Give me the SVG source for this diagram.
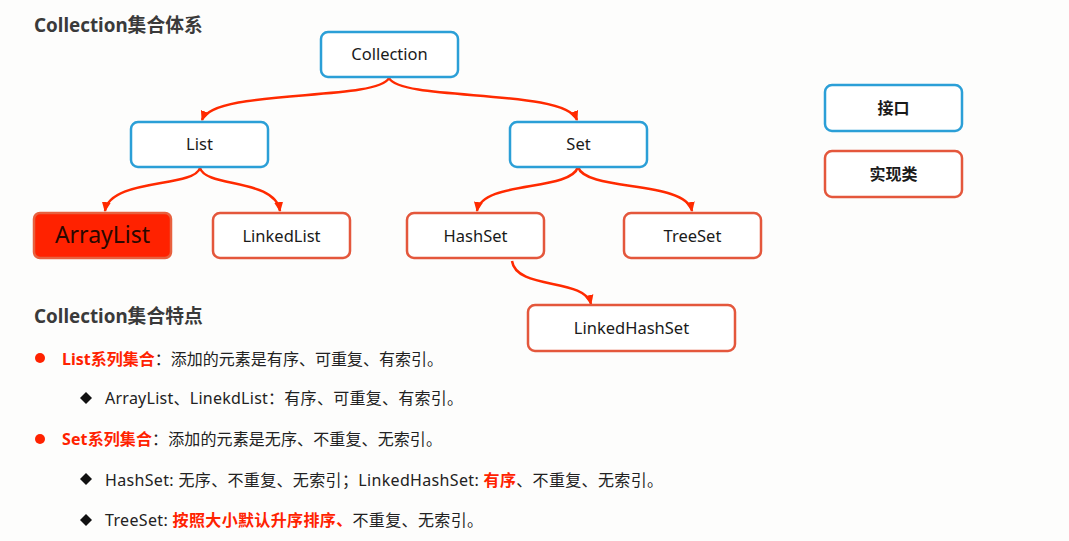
<svg xmlns="http://www.w3.org/2000/svg" width="1069" height="541" viewBox="0 0 1069 541">
<style>
text{font-family:"Noto Sans","Noto Sans CJK SC",sans-serif;}
.iface{fill:#fff;stroke:#2b9fd7;stroke-width:2.5;}
.impl{fill:#fff;stroke:#e4573c;stroke-width:2.5;}
.lbl{font-size:16.5px;fill:#1a1a1a;text-anchor:middle;}
.leg{font-size:16px;font-weight:bold;fill:#1a1a1a;text-anchor:middle;}
.head{font-size:18.8px;font-weight:bold;fill:#3a3a3a;}
.body{font-size:16px;fill:#222;}
.hl{fill:#ff2200;font-weight:bold;}
.conn{fill:none;stroke:#ff2a00;stroke-width:2.5;marker-end:url(#arr);}
</style>
<defs>
<marker id="arr" viewBox="0 0 10 10" refX="9" refY="5" markerWidth="10" markerHeight="10" markerUnits="userSpaceOnUse" orient="auto">
<path d="M0,0.5 L10,5 L0,9.5 Z" fill="#ff2a00"/>
</marker>
</defs>
<rect width="1069" height="541" fill="#fdfdfc"/>

<g id="connectors">
<path class="conn" d="M389,78 C376,102 214,88 202,120"/>
<path class="conn" d="M389,78 C402,102 565,88 577,120"/>
<path class="conn" d="M200,168 C194,188 110,178 105,211"/>
<path class="conn" d="M200,168 C206,188 275,178 280,211"/>
<path class="conn" d="M578,167 C570,192 482,180 477,211"/>
<path class="conn" d="M578,167 C586,192 686,180 692,211"/>
<path class="conn" d="M512,261 C516,290 585,278 591,304"/>
</g>

<g id="node-collection">
<rect class="iface" x="321" y="32" width="137" height="45" rx="7"/>
<text class="lbl" x="389.5" y="60">Collection</text>
</g>
<g id="node-list">
<rect class="iface" x="131" y="122" width="137" height="45" rx="7"/>
<text class="lbl" x="199.5" y="150">List</text>
</g>
<g id="node-set">
<rect class="iface" x="510" y="122" width="137" height="45" rx="7"/>
<text class="lbl" x="578.5" y="150">Set</text>
</g>
<g id="node-arraylist">
<rect x="34" y="213" width="137" height="45" rx="6" fill="#ff2200" stroke="#e8603e" stroke-width="2.5"/>
<text x="102.5" y="243" font-size="23" fill="#2a0800" text-anchor="middle">ArrayList</text>
</g>
<g id="node-linkedlist">
<rect class="impl" x="213" y="213" width="137" height="45" rx="7"/>
<text class="lbl" x="281.5" y="242">LinkedList</text>
</g>
<g id="node-hashset">
<rect class="impl" x="407" y="213" width="137" height="45" rx="7"/>
<text class="lbl" x="475.5" y="242">HashSet</text>
</g>
<g id="node-treeset">
<rect class="impl" x="624" y="213" width="137" height="45" rx="7"/>
<text class="lbl" x="692.5" y="242">TreeSet</text>
</g>
<g id="node-linkedhashset">
<rect class="impl" x="528" y="305" width="207" height="46" rx="7"/>
<text class="lbl" x="631.5" y="334">LinkedHashSet</text>
</g>
<g id="legend-interface">
<rect class="iface" x="825" y="85" width="137" height="46" rx="7"/>
<text class="leg" x="893.5" y="114">接口</text>
</g>
<g id="legend-impl">
<rect class="impl" x="825" y="151" width="137" height="46" rx="7"/>
<text class="leg" x="893.5" y="180">实现类</text>
</g>

<g id="text-blocks">
<text class="head" x="34" y="32">Collection集合体系</text>
<text class="head" x="34" y="323">Collection集合特点</text>
<circle cx="40" cy="358" r="5" fill="#ff2200"/>
<text class="body" x="62" y="365" textLength="381" lengthAdjust="spacing"><tspan class="hl">List系列集合</tspan>：添加的元素是有序、可重复、有索引。</text>
<path d="M86,392 L92,398 L86,404 L80,398 Z" fill="#111"/>
<text class="body" x="105" y="404" textLength="358" lengthAdjust="spacing">ArrayList、LinekdList：有序、可重复、有索引。</text>
<circle cx="40" cy="439" r="5" fill="#ff2200"/>
<text class="body" x="62" y="445" textLength="380" lengthAdjust="spacing"><tspan class="hl">Set系列集合</tspan>：添加的元素是无序、不重复、无索引。</text>
<path d="M86,473 L92,479 L86,485 L80,479 Z" fill="#111"/>
<text class="body" x="105" y="486" textLength="558" lengthAdjust="spacing">HashSet: 无序、不重复、无索引；LinkedHashSet: <tspan class="hl">有序</tspan>、不重复、无索引。</text>
<path d="M86,514 L92,520 L86,526 L80,520 Z" fill="#111"/>
<text class="body" x="105" y="526" textLength="378" lengthAdjust="spacing">TreeSet: <tspan class="hl">按照大小默认升序排序、</tspan>不重复、无索引。</text>
</g>
</svg>
